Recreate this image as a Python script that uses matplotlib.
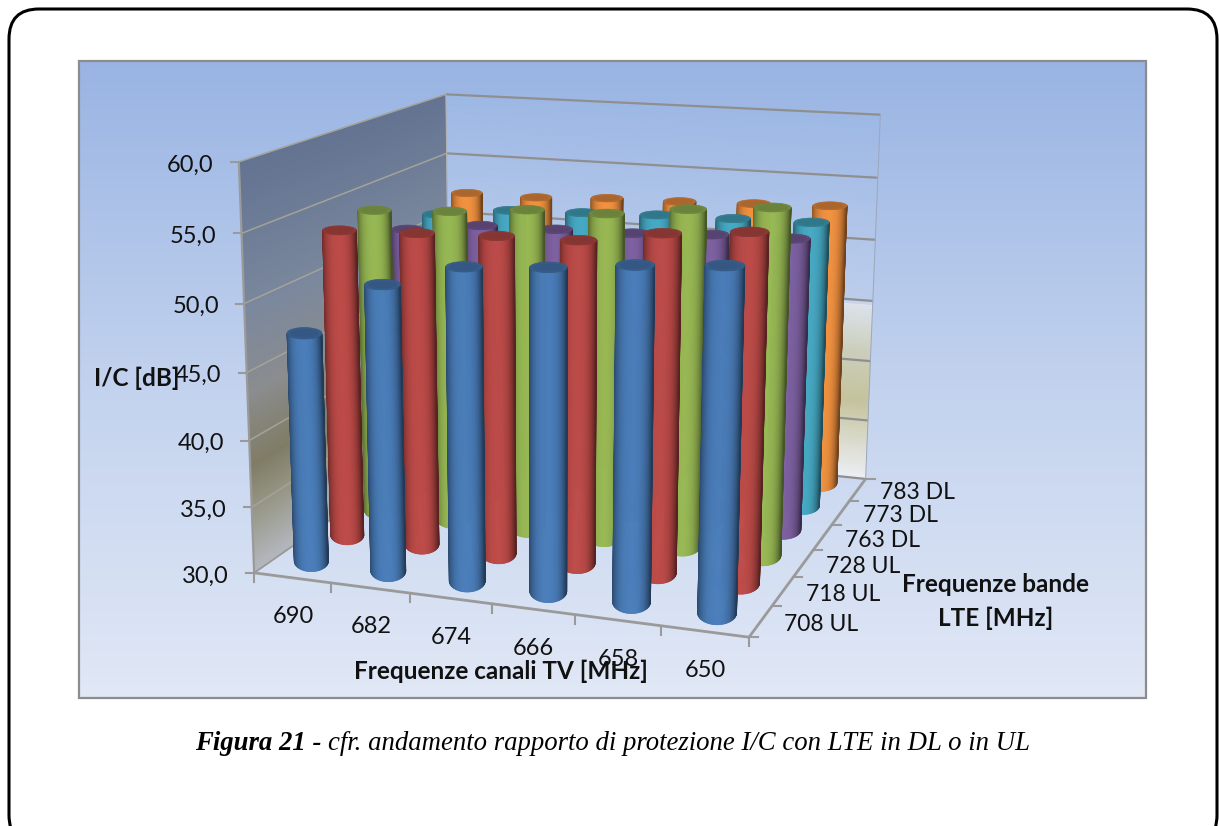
import numpy as np
import matplotlib
matplotlib.use("Agg")
import matplotlib.pyplot as plt
from matplotlib.collections import PolyCollection
from matplotlib.colors import to_rgb, LinearSegmentedColormap
from matplotlib.patches import FancyBboxPatch, Rectangle, Polygon

channels = ["690", "682", "674", "666", "658", "650"]
bands = ["708 UL", "718 UL", "728 UL", "763 DL", "773 DL", "783 DL"]
y_ticks = [30, 35, 40, 45, 50, 55, 60]
ul_708 = [47.4, 51.4, 53.1, 53.5, 54.1, 54.5]
ul_718 = [53.7, 53.9, 54.1, 54.2, 55.1, 55.6]
ul_728 = [54.1, 54.4, 54.9, 55.0, 55.7, 56.2]
dl_763 = [51.5, 52.2, 52.3, 52.4, 52.7, 52.8]
dl_773 = [51.6, 52.3, 52.5, 52.7, 52.8, 52.9]
dl_783 = [52.3, 52.3, 52.6, 52.7, 52.9, 53.1]
series = [ul_708, ul_718, ul_728, dl_763, dl_773, dl_783]
colors = ["#4A7EBB", "#BE4B48", "#98B954", "#7D60A0", "#46AAC5", "#F39240"]

# camera calibration: box corners -> picture pixels
corners = [(0,0,0,255,572),(1,0,0,749,638),(1,1,0,866,478),(0,1,0,449,437),
           (0,0,1,238,162),(1,1,1,880,115),(0,1,1,447,94)]
A=[]
for u,v,z,x,y in corners:
    x/=1000;y/=1000
    A.append([u,v,z,1,0,0,0,0,-x*u,-x*v,-x*z,-x])
    A.append([0,0,0,0,u,v,z,1,-y*u,-y*v,-y*z,-y])
P=np.linalg.svd(np.array(A))[2][-1].reshape(3,4)
P=P*np.array([[1000]*4,[1000]*4,[1]*4])
def proj(u,v,z):
    u,v,z=np.broadcast_arrays(np.asarray(u,float),np.asarray(v,float),np.asarray(z,float))
    h=np.stack([u,v,z,np.ones_like(u)])
    X=P@h.reshape(4,-1)
    return (X[0]/X[2]).reshape(u.shape),(X[1]/X[2]).reshape(u.shape)

fig=plt.figure(figsize=(12.19,8.26),dpi=100)
ax=fig.add_axes([0,0,1,1]);ax.set_xlim(0,1219);ax.set_ylim(826,0);ax.axis("off")

ax.add_patch(FancyBboxPatch((39,39),1148,776,boxstyle="round,pad=30,rounding_size=30",fc="white",ec="black",lw=2.2,zorder=0))
bg=LinearSegmentedColormap.from_list("bg",["#99B4E3","#C2D2EE","#E1E8F6"])
ax.imshow(np.linspace(0,1,256)[:,None],cmap=bg,extent=[79,1146,698,61],aspect="auto",zorder=1)
ax.set_xlim(0,1219);ax.set_ylim(826,0)
ax.add_patch(Rectangle((79,61),1067,637,fc="none",ec="#8c8c8c",lw=1.6,zorder=2))

def wall(u0,v0,u1,v1,stops):
    zs=np.array([s[0] for s in stops]);cs=np.array([to_rgb(s[1]) for s in stops])
    grid=np.linspace(0,1,150);polys=[];fc=[]
    for a,b in zip(grid[:-1],grid[1:]):
        xa,ya=proj([u0,u1],[v0,v1],[a,a]);xb,yb=proj([u1,u0],[v1,v0],[b,b])
        polys.append(np.c_[np.r_[xa,xb],np.r_[ya,yb]])
        m=(a+b)/2;fc.append([np.interp(m,zs,cs[:,i]) for i in range(3)])
    ax.add_collection(PolyCollection(polys,facecolors=fc,edgecolors=fc,linewidths=0.4,zorder=3))
wall(0,0,0,1,[(0,"#B4B8C0"),(.15,"#989888"),(.27,"#7F7B63"),(.45,"#8A8C8E"),(.65,"#7A879C"),(1,"#627290")])
wall(0,1,1,1,[(0,"#EDF0F6"),(.1,"#DCDCCF"),(.22,"#C5C39B"),(.35,"#CBCDB8"),(.49,"#DDE3EC"),(.495,"#BDCEEB"),(1,"#9DB8E5")])

gc="#9a9a9a"
def line(u,v,z,lw=1.5,c=gc,zo=4):
    x,y=proj(u,v,z);ax.plot(x,y,color=c,lw=lw,zorder=zo,solid_capstyle="butt")
zn=[(t-30)/30 for t in y_ticks]
for z in zn:
    line([0,0],[0,1],[z,z],1.1,"#a3a39a");line([0,1],[1,1],[z,z],1.6,"#8f8f8f")
line([0,0],[0,0],[0,1],1.6);line([0,0],[1,1],[0,1],.8,"#b0b0b0");line([1,1],[1,1],[0,1],.7,"#9aa7bb")
line([0,1],[0,0],[0,0],2);line([1,1],[0,1],[0,0],2);line([0,0],[0,1],[0,0],1.2)
for i,t in enumerate(y_ticks):
    x,y=proj(0,0,zn[i]);ax.plot([x-8,x],[y,y],color=gc,lw=1.5,zorder=4)
    ax.text(x-25,y+3,f"{t},0",ha="right",va="center",family="Lato",fontsize=17,color="#111",zorder=30)
for k in range(7):
    x,y=proj(k/6,0,0);ax.plot([x,x],[y,y+9],color=gc,lw=1.5,zorder=4)
    x,y=proj(1,k/6,0);ax.plot([x,x+9],[y,y],color=gc,lw=1.5,zorder=4)
for k,c in enumerate(channels):
    x,y=proj((k+.5)/6,0,0);ax.text(x+0.5,y+39,c,ha="center",va="center",family="Lato",fontsize=17,color="#111",zorder=30)
for k,c in enumerate(bands):
    x,y=proj(1,(k+.5)/6,0);ax.text(x+60,y+3,c,ha="center",va="center",family="Lato",fontsize=16.5,color="#111",zorder=30)

ru,rv=.0375,.065
order=sorted([(j,i) for j in range(6) for i in range(6)],key=lambda t:(-t[0],t[1]))
t=np.linspace(np.pi,0,61)
full=np.linspace(0,2*np.pi,121)
def ellipse_size(u0,v0,z):
    x,_=proj([u0-ru,u0+ru],[v0,v0],[z,z]);_,y=proj([u0,u0],[v0-rv,v0+rv],[z,z])
    return abs(x[1]-x[0])/2,abs(y[1]-y[0])/2
for zo,(j,i) in enumerate(order):
    u0=(i+.5)/6;v0=(j+.5)/6;z=(series[j][i]-30)/30
    base=np.array(to_rgb(colors[j]))
    xb0,yb0=proj(u0,v0,0);xt0,yt0=proj(u0,v0,z)
    yb0=yb0-3
    ab,bb=ellipse_size(u0,v0,0);bt=ellipse_size(u0,v0,z)[1]*.75;at=ab*1.02
    xb=xb0+ab*np.cos(t);yb=yb0+bb*np.sin(t);xt=xt0+at*np.cos(t);yt=yt0+bt*np.sin(t)
    polys=[];fc=[]
    for p in range(len(t)-1):
        polys.append([(xb[p],yb[p]),(xb[p+1],yb[p+1]),(xt[p+1],yt[p+1]),(xt[p],yt[p])])
        s=np.cos((t[p]+t[p+1])/2)
        f=1-.42*np.abs(s+.05)**3.2-.05*abs(s)
        fc.append(np.clip(base*f,0,1))
    ax.add_collection(PolyCollection(polys,facecolors=fc,edgecolors=fc,linewidths=.5,zorder=10+zo))
    ax.add_patch(Polygon(np.c_[xt0+at*np.cos(full),yt0+bt*np.sin(full)],fc=base*.74,ec=base*.70,lw=.5,zorder=10+zo))
    ax.add_patch(Polygon(np.c_[xt0+.82*at*np.cos(full),yt0+.75*bt*np.sin(full)],fc=base*.7,ec="none",zorder=10+zo))

bold=dict(ha="center",va="center",family="Lato",weight="bold",fontsize=17.5,color="#111",zorder=31)
ax.text(137,378,"I/C [dB]",**bold)
ax.text(501,671,"Frequenze canali TV [MHz]",**bold)
ax.text(996,585,"Frequenze bande",**bold)
ax.text(996,618,"LTE [MHz]",**bold)
ax.text(195,750,"Figura 21 -",ha="left",va="baseline",family="Liberation Serif",weight="bold",style="italic",fontsize=19.3,zorder=31)
ax.text(328,750,"cfr. andamento rapporto di protezione I/C con LTE in DL o in UL",ha="left",va="baseline",family="Liberation Serif",style="italic",fontsize=19.3,zorder=31)
fig.savefig("out.png",dpi=100)
